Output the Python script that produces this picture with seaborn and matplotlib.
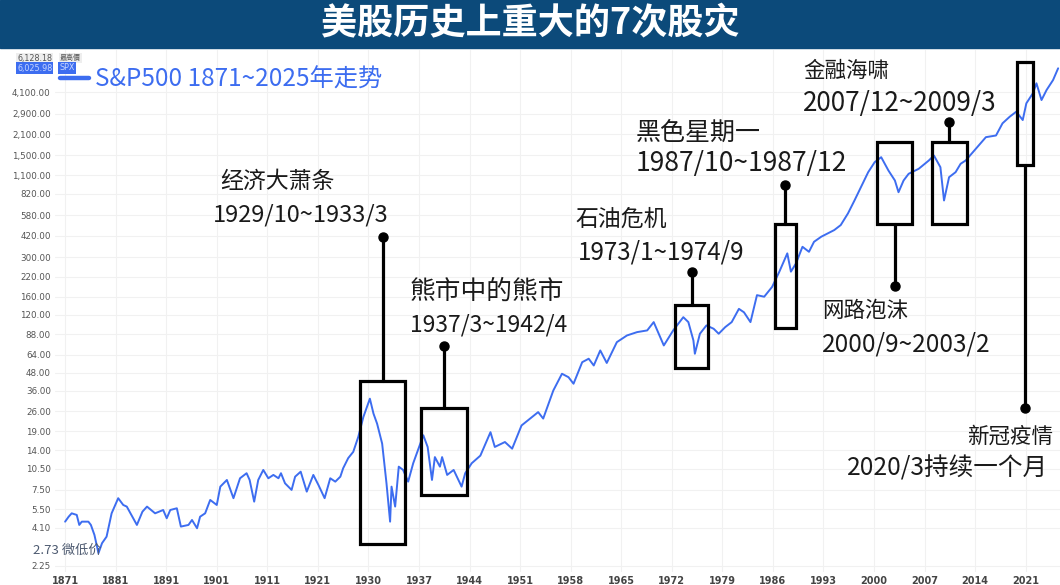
import numpy as np
import pandas as pd
import matplotlib
matplotlib.use("Agg")
import matplotlib.pyplot as plt
from matplotlib.patches import Rectangle
import seaborn as sns

# S&P500 monthly-ish path (year, index level)
years = [1871.0, 1871.7, 1872.3, 1873.3, 1873.8, 1874.3, 1875.6, 1876.1, 1876.8, 1877.6,
         1878.3, 1879.2, 1880.2, 1881.5, 1882.5, 1883.2, 1885.2, 1886.3, 1887.2, 1888.8,
         1890.4, 1891.1, 1891.8, 1893.1, 1893.9, 1895.4, 1896.1, 1897.1, 1897.7, 1898.7,
         1899.7, 1901.0, 1901.7, 1903.0, 1904.3, 1905.6, 1906.9, 1907.5, 1908.4, 1909.2,
         1910.2, 1911.2, 1912.2, 1913.2, 1913.7, 1914.5, 1915.8, 1916.5, 1917.6, 1918.8,
         1920.1, 1921.1, 1922.2, 1923.2, 1924.1, 1925.0, 1925.5, 1926.4, 1927.3, 1928.2,
         1929.1, 1930.2, 1930.7, 1931.2, 1931.9, 1932.5, 1933.0, 1933.2, 1933.7, 1934.2,
         1934.8, 1935.5, 1936.2, 1937.1, 1937.6, 1938.2, 1938.8, 1939.2, 1939.9, 1940.2,
         1940.9, 1941.8, 1942.9, 1943.4, 1944.3, 1945.5, 1946.9, 1947.5, 1948.9, 1949.9,
         1951.2, 1952.4, 1953.5, 1954.2, 1955.6, 1956.8, 1957.7, 1958.4, 1959.6, 1960.5,
         1961.2, 1962.1, 1963.0, 1964.4, 1965.8, 1967.2, 1968.6, 1969.5, 1970.9, 1972.2,
         1973.6, 1974.3, 1975.0, 1975.2, 1975.9, 1976.8, 1977.8, 1978.5, 1979.4, 1980.3,
         1981.3, 1982.0, 1982.9, 1983.8, 1984.8, 1985.9, 1986.9, 1988.0, 1988.5, 1989.2,
         1990.1, 1991.0, 1991.7, 1992.7, 1994.5, 1995.4, 1996.4, 1997.3, 1998.2, 1999.2,
         2000.1, 2001.0, 2002.0, 2002.9, 2003.4, 2004.1, 2004.8, 2006.2, 2007.6, 2008.3,
         2009.2, 2009.7, 2010.4, 2011.3, 2012.0, 2012.7, 2013.9, 2015.5, 2016.9, 2017.8,
         2018.8, 2019.7, 2020.6, 2021.1, 2022.0, 2022.5, 2023.2, 2023.9, 2024.8, 2025.5]
spx = [4.53, 4.90, 5.17, 5.04, 4.30, 4.53, 4.53, 4.30, 3.67, 2.75,
       3.22, 3.57, 5.17, 6.57, 5.90, 5.75, 4.30, 5.31, 5.75, 5.17,
       5.45, 4.78, 5.45, 5.60, 4.19, 4.30, 4.65, 4.08, 4.90, 5.17,
       6.39, 5.90, 7.89, 8.77, 6.57, 9.01, 9.76, 8.77, 6.22, 8.77,
       10.28, 9.01, 9.50, 9.01, 9.76, 8.32, 7.49, 9.24, 10.0, 7.29,
       9.50, 8.10, 6.57, 9.01, 8.54, 9.24, 10.56, 12.4, 13.7, 17.4,
       23.8, 31.8, 25.1, 21.4, 15.6, 8.32, 4.53, 7.89, 5.75, 10.83,
       10.28, 8.54, 11.43, 15.2, 17.8, 14.8, 8.77, 12.6, 10.83, 12.6,
       9.50, 10.28, 7.89, 9.76, 11.43, 12.9, 18.7, 14.8, 16.0, 14.4,
       20.8, 23.2, 25.7, 23.2, 36.2, 47.2, 44.7, 40.3, 56.7, 59.9,
       53.8, 68.3, 56.0, 77.9, 86.6, 91.3, 93.8, 107, 73.9, 93.8,
       115.7, 107, 80, 64.8, 89, 101.5, 96.3, 89, 98.8, 107,
       132, 125, 107, 164, 160, 187, 238, 318, 238, 271,
       353, 326, 382, 414, 460, 498, 599, 735, 908, 1151,
       1349, 1460, 1183, 1009, 838, 1009, 1122, 1215, 1386, 1500,
       1246, 735, 1063, 1151, 1315, 1386, 1624, 2005, 2059, 2497,
       2773, 3001, 2630, 3428, 4016, 4707, 3611, 4232, 4958, 5970]

tick_years = [1871, 1881, 1891, 1901, 1911, 1921, 1930, 1937, 1944, 1951,
              1958, 1965, 1972, 1979, 1986, 1993, 2000, 2007, 2014, 2021]
ytick_vals = [2.25, 4.10, 5.50, 7.50, 10.50, 14.00, 19.00, 26.00, 36.00, 48.00, 64.00, 88.00,
              120.00, 160.00, 220.00, 300.00, 420.00, 580.00, 820.00, 1100.00, 1500.00,
              2100.00, 2900.00, 4100.00]

# crash boxes: start year, end year, low, high, marker level
crash_start = [1928.5, 1937.3, 1972.5, 1986.3, 2000.4, 2008.0, 2019.8]
crash_end = [1935.1, 1943.7, 1977.0, 1989.2, 2005.3, 2012.9, 2022.0]
crash_low = [3.18, 6.92, 51.3, 96.8, 506, 506, 1289]
crash_high = [41.8, 27.3, 139.4, 506, 1844, 1844, 6594]
crash_dot = [412, 72.7, 236, 947, 189, 2535, 27.3]

crash_names = ["经济大萧条", "熊市中的熊市", "石油危机", "黑色星期一", "网路泡沫", "金融海啸", "新冠疫情"]
crash_dates = ["1929/10~1933/3", "1937/3~1942/4", "1973/1~1974/9", "1987/10~1987/12",
               "2000/9~2003/2", "2007/12~2009/3", "2020/3持续一个月"]


def to_pos(y):
    # the chart's time axis is evenly spaced by label, not by year
    ty = tick_years + [2028]
    return np.interp(y, ty, np.arange(len(ty)))


df = pd.DataFrame({"pos": to_pos(np.array(years)), "spx": spx})

sns.set_theme(style="white")
plt.rcParams["font.family"] = ["Noto Sans CJK SC", "DejaVu Sans"]

W, H = 1060, 585
fig = plt.figure(figsize=(W / 100, H / 100), dpi=100)
fig.patch.set_facecolor("white")


def px(x, y):
    return x / W, 1 - y / H


# title bar
fig.patches.append(Rectangle((0, 1 - 48 / H), 1, 48 / H, transform=fig.transFigure,
                             color="#0c4a7a", zorder=0))
fig.text(0.5, 1 - 24 / H, "美股历史上重大的7次股灾", color="white", fontsize=26,
         fontweight="bold", ha="center", va="center")

ax = fig.add_axes([55 / W, 1 - 572 / H, 1 - 55 / W, (572 - 50) / H])
sns.lineplot(data=df, x="pos", y="spx", ax=ax, color="#3d6df0", lw=1.4,
             label="S&P500 1871~2025年走势", sort=False)
ax.set_yscale("log")
ax.set_ylim(2.04, 7980)
ax.set_xlim(-0.2, 19.68)
ax.set_xlabel("")
ax.set_ylabel("")
ax.set_xticks(range(len(tick_years)))
ax.set_xticklabels([str(t) for t in tick_years], fontsize=7, color="#444444",
                   fontweight="bold", family="DejaVu Sans")
ax.set_yticks(ytick_vals)
ax.set_yticklabels([f"{v:,.2f}" for v in ytick_vals], fontsize=6.3, color="#555555",
                   family="DejaVu Sans")
ax.yaxis.set_minor_locator(matplotlib.ticker.NullLocator())
ax.tick_params(length=0, pad=3)
ax.grid(True, color="#f1f1f1", lw=0.8)
for s in ax.spines.values():
    s.set_visible(False)

leg = ax.legend(loc="center left", bbox_to_anchor=px(60, 80), bbox_transform=fig.transFigure,
                frameon=False, fontsize=17.5, handlelength=1.2, handletextpad=0.25,
                borderpad=0, borderaxespad=0, labelcolor="#3d6df0")
leg.get_lines()[0].set_linewidth(3.2)

# crash boxes with pins
for i in range(len(crash_start)):
    x0, x1 = to_pos(crash_start[i]), to_pos(crash_end[i])
    lo, hi = crash_low[i], crash_high[i]
    ax.add_patch(Rectangle((x0, lo), x1 - x0, hi - lo, fill=False, ec="black", lw=2.3, zorder=5))
    cx = (x0 + x1) / 2
    edge = hi if crash_dot[i] > hi else lo
    ax.plot([cx, cx], [edge, crash_dot[i]], color="black", lw=2.3, zorder=5)
    ax.plot([cx], [crash_dot[i]], "o", color="black", ms=6.5, zorder=6)

# labels (pixel layout): name pos, date pos, name size, date size, align
label_pos = [((220, 181), (213, 215), 16.5, 17, "left"),
             ((410, 292), (410, 325), 18.5, 16.4, "left"),
             ((575, 219), (578, 252), 16.5, 17.4, "left"),
             ((636, 133), (636, 164), 18, 19, "left"),
             ((822, 311), (822, 344), 15.5, 17.5, "left"),
             ((803, 71), (803, 104), 15.5, 18.8, "left"),
             ((1053, 437), (1048, 469), 15.5, 17.7, "right")]
for i, (p1, p2, fs1, fs2, ha) in enumerate(label_pos):
    fig.text(*px(*p1), crash_names[i], fontsize=fs1, ha=ha, va="center", color="#1a1a1a",
             fontweight="medium" if i in (1, 3) else "normal")
    fig.text(*px(*p2), crash_dates[i], fontsize=fs2, ha=ha, va="center", color="#1a1a1a")

# price-box tags
fig.text(*px(17, 58), "6,128.18", fontsize=5.8, color="#555555", va="center",
         family="DejaVu Sans", bbox=dict(fc="#eeeeee", ec="none", pad=0.6))
fig.text(*px(60, 58), "最高價", fontsize=5, color="#555555", va="center",
         bbox=dict(fc="#eeeeee", ec="none", pad=0.6))
fig.text(*px(17, 68), "6,025.98", fontsize=5.8, color="#c8d6ff", va="center",
         family="DejaVu Sans", bbox=dict(fc="#3d6df0", ec="none", pad=0.8))
fig.text(*px(59, 68), "SPX", fontsize=5.8, color="#c8d6ff", va="center",
         family="DejaVu Sans", bbox=dict(fc="#3d6df0", ec="none", pad=0.8))
fig.text(*px(33, 550), "2.73 微低价", fontsize=9.5, color="#4d5a70", va="center")

fig.savefig("out.png", dpi=100)
